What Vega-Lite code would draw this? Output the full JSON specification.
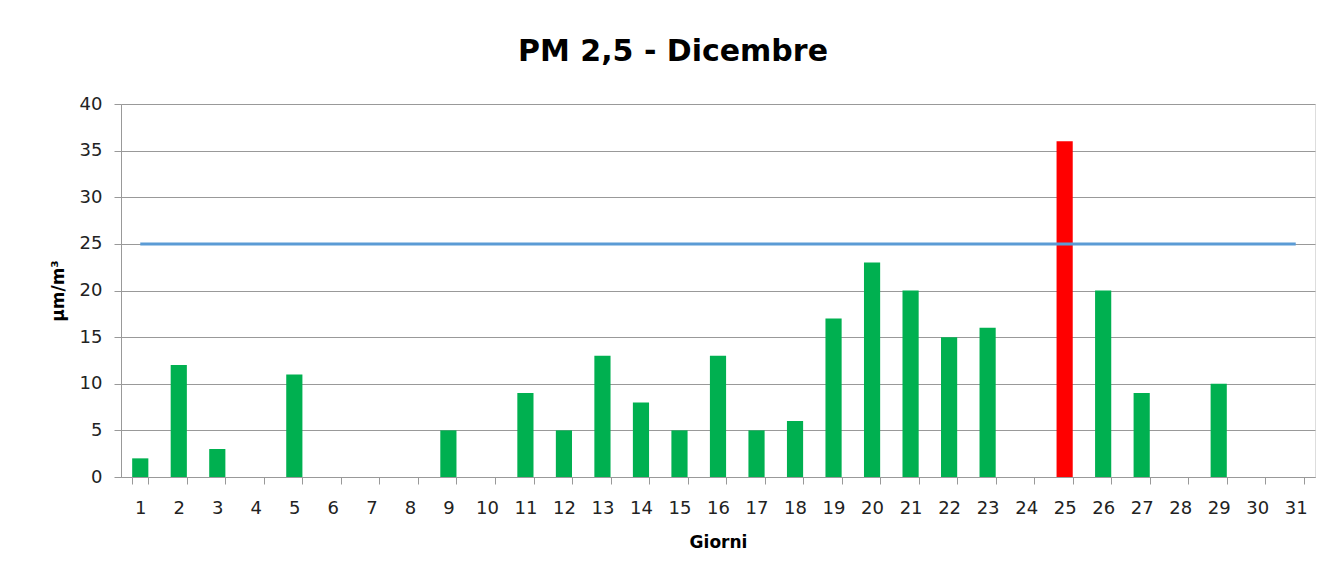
{
  "$schema": "https://vega.github.io/schema/vega-lite/v6.json",
  "autosize": {"type": "none"},
  "width": 1194,
  "height": 373,
  "padding": {"left": 121, "top": 104, "right": 16, "bottom": 96},
  "background": "white",
  "title": {
    "text": "PM 2,5 - Dicembre",
    "font": "DejaVu Sans",
    "fontSize": 30,
    "fontWeight": "bold",
    "color": "#000000",
    "anchor": "middle",
    "dx": -45,
    "baseline": "alphabetic",
    "offset": 4
  },
  "data": {
    "values": [
      {"giorno": 1, "pm": 2}, {"giorno": 2, "pm": 12}, {"giorno": 3, "pm": 3},
      {"giorno": 4, "pm": 0}, {"giorno": 5, "pm": 11}, {"giorno": 6, "pm": 0},
      {"giorno": 7, "pm": 0}, {"giorno": 8, "pm": 0}, {"giorno": 9, "pm": 5},
      {"giorno": 10, "pm": 0}, {"giorno": 11, "pm": 9}, {"giorno": 12, "pm": 5},
      {"giorno": 13, "pm": 13}, {"giorno": 14, "pm": 8}, {"giorno": 15, "pm": 5},
      {"giorno": 16, "pm": 13}, {"giorno": 17, "pm": 5}, {"giorno": 18, "pm": 6},
      {"giorno": 19, "pm": 17}, {"giorno": 20, "pm": 23}, {"giorno": 21, "pm": 20},
      {"giorno": 22, "pm": 15}, {"giorno": 23, "pm": 16}, {"giorno": 24, "pm": 0},
      {"giorno": 25, "pm": 36}, {"giorno": 26, "pm": 20}, {"giorno": 27, "pm": 9},
      {"giorno": 28, "pm": 0}, {"giorno": 29, "pm": 10}, {"giorno": 30, "pm": 0},
      {"giorno": 31, "pm": 0}
    ]
  },
  "encoding": {
    "x": {
      "field": "giorno",
      "type": "ordinal",
      "scale": {"paddingInner": 0.58, "paddingOuter": 0.29},
      "axis": {
        "title": "Giorni",
        "titleFont": "DejaVu Sans",
        "titleFontSize": 17,
        "titleFontWeight": "bold",
        "titleColor": "#000000",
        "titleBaseline": "alphabetic",
        "titleY": 70,
        "labelFont": "DejaVu Sans",
        "labelFontSize": 18,
        "labelColor": "#222222",
        "labelAngle": 0,
        "labelPadding": 15,
        "tickBand": "extent",
        "tickSize": 7,
        "tickColor": "#999999",
        "domainColor": "#999999",
        "grid": false
      }
    }
  },
  "layer": [
    {
      "mark": {"type": "bar"},
      "encoding": {
        "y": {
          "field": "pm",
          "type": "quantitative",
          "scale": {"domain": [0, 40]},
          "axis": {
            "title": "µm/m³",
            "titleFont": "DejaVu Sans",
            "titleFontSize": 17,
            "titleFontWeight": "bold",
            "titleColor": "#000000",
            "titleBaseline": "alphabetic",
            "titleX": -58,
            "values": [0, 5, 10, 15, 20, 25, 30, 35, 40],
            "labelFont": "DejaVu Sans",
            "labelFontSize": 18,
            "labelColor": "#222222",
            "labelPadding": 12,
            "tickSize": 7,
            "tickColor": "#999999",
            "domainColor": "#999999",
            "gridColor": "#999999",
            "gridWidth": 1
          }
        },
        "color": {
          "condition": {"test": "datum.pm > 25", "value": "#FF0000"},
          "value": "#00B050"
        }
      }
    },
    {
      "mark": {"type": "line", "color": "#5B9BD5", "strokeWidth": 3},
      "encoding": {
        "y": {"datum": 25, "type": "quantitative"}
      }
    }
  ]
}
